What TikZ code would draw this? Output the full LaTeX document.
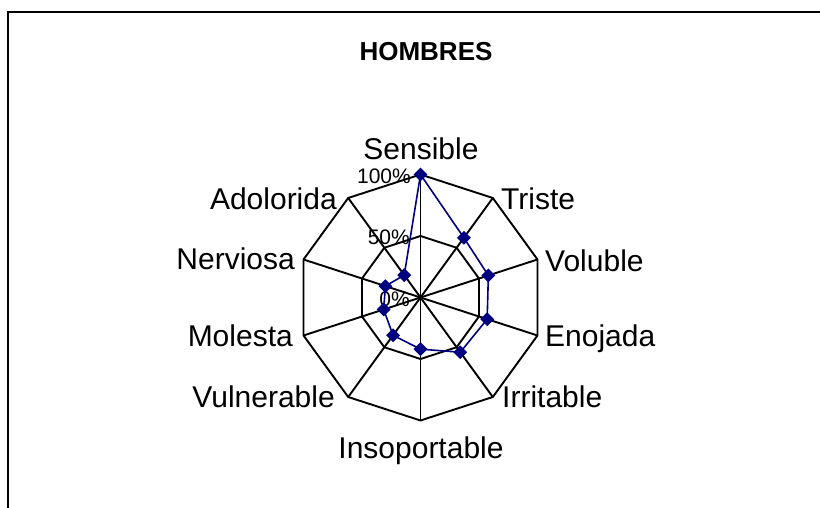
\documentclass[tikz,border=0pt]{standalone}
\usepackage{fontspec}
\setmainfont{Liberation Sans}
\usetikzlibrary{shapes.geometric,calc}
\definecolor{navyblue}{RGB}{0,0,128}
\begin{document}
\begin{tikzpicture}[x=1pt,y=1pt,
  gridline/.style={black,line width=1.9pt,line join=miter},
  dataline/.style={navyblue,line width=1.6pt,line join=round},
  datamark/.style={diamond,fill=navyblue,draw=none,inner sep=0pt,minimum size=14pt},
  axislabel/.style={inner sep=0pt,font=\fontsize{30}{36}\selectfont},
  ticklabel/.style={inner sep=0pt,font=\fontsize{21}{25}\selectfont},
  titlelabel/.style={inner sep=0pt,font=\bfseries\fontsize{26}{31}\selectfont},
  frameline/.style={black,line width=2pt}]
\useasboundingbox (0,0) rectangle (820,508);
% frame
\coordinate (fa) at (8.3,-5);
\coordinate (fb) at (8.3,495.7);
\coordinate (fc) at (825,495.7);
\draw[frameline] (fa) -- (fb) -- (fc);
% title
\node[titlelabel,anchor=base] (title) at (426,447) {HOMBRES};
% radar geometry
\coordinate (C) at (420.5,210.5);
\def\R{123}
\foreach \i/\v in {0/1.00,1/0.60,2/0.58,3/0.57,4/0.55,5/0.42,6/0.38,7/0.315,8/0.30,9/0.225}{
  \coordinate (o\i) at ($(C)+({90-36*\i}:\R)$);
  \coordinate (m\i) at ($(C)+({90-36*\i}:0.5*\R)$);
  \coordinate (d\i) at ($(C)+({90-36*\i}:\v*\R)$);
}
\draw[gridline] (o0) -- (o1) -- (o2) -- (o3) -- (o4) -- (o5) -- (o6) -- (o7) -- (o8) -- (o9) -- cycle;
\draw[gridline] (m0) -- (m1) -- (m2) -- (m3) -- (m4) -- (m5) -- (m6) -- (m7) -- (m8) -- (m9) -- cycle;
\foreach \i in {0,...,9}{\draw[gridline] (C) -- (o\i);}
% tick labels
\node[ticklabel,anchor=base east] (t100) at (411,324) {100\%};
\node[ticklabel,anchor=base east] (t50) at (410,263) {50\%};
\node[ticklabel,anchor=base east] (t0) at (410,201) {0\%};
% data
\draw[dataline] (d0) -- (d1) -- (d2) -- (d3) -- (d4) -- (d5) -- (d6) -- (d7) -- (d8) -- (d9) -- cycle;
\foreach \i in {0,...,9}{\node[datamark] (p\i) at (d\i) {};}
% axis labels
\node[axislabel,anchor=base] (lsens) at (421,348) {Sensible};
\node[axislabel,anchor=base west] (ltris) at (501,298) {Triste};
\node[axislabel,anchor=base west] (lvolu) at (545,236) {Voluble};
\node[axislabel,anchor=base west] (lenoj) at (545,161) {Enojada};
\node[axislabel,anchor=base west] (lirri) at (502,100) {Irritable};
\node[axislabel,anchor=base] (linso) at (421,49) {Insoportable};
\node[axislabel,anchor=base east] (lvuln) at (335,100) {Vulnerable};
\node[axislabel,anchor=base east] (lmole) at (293,161) {Molesta};
\node[axislabel,anchor=base east] (lnerv) at (295,238) {Nerviosa};
\node[axislabel,anchor=base east] (ladol) at (337,298) {Adolorida};
\end{tikzpicture}
\end{document}
